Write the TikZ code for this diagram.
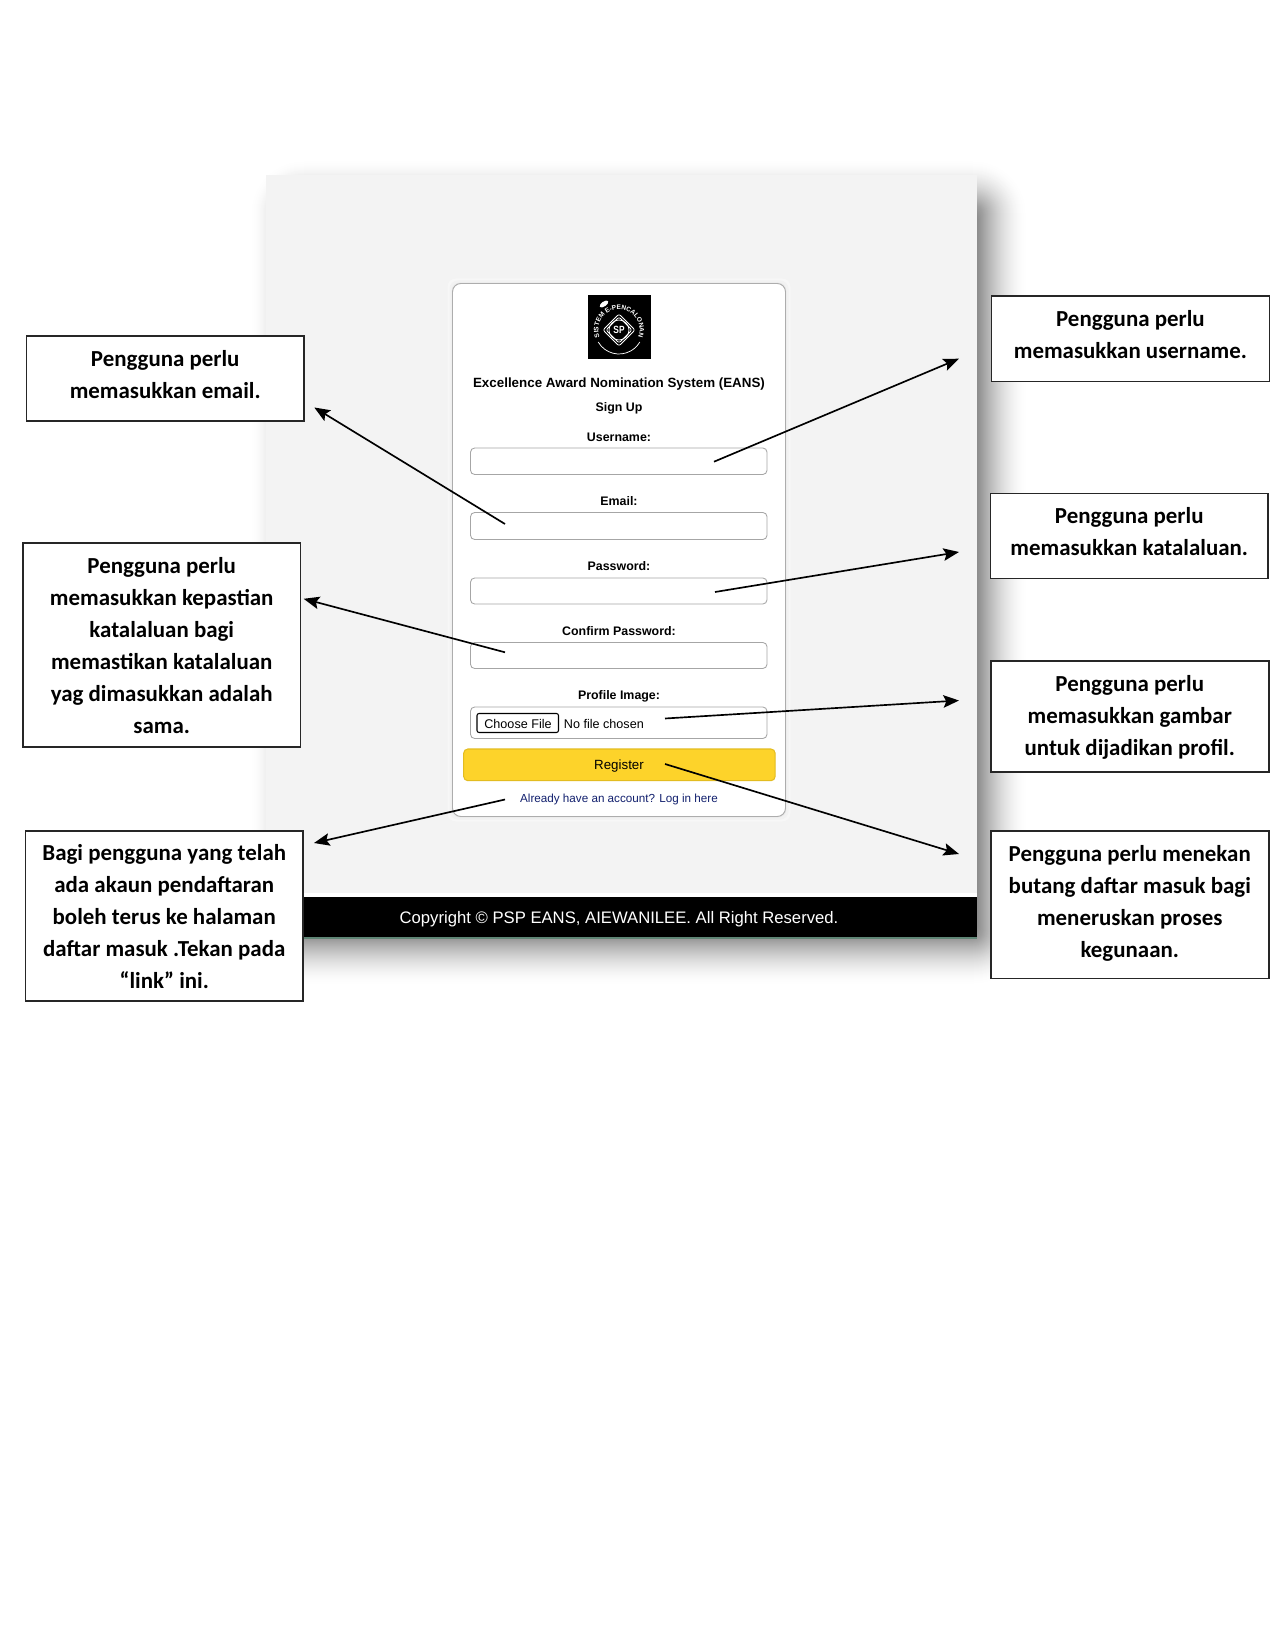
\documentclass[tikz,border=0pt]{standalone}
\usepackage{fontspec}
\setmainfont{Liberation Sans}
\newfontfamily\callfont{Carlito}
\usetikzlibrary{arrows.meta,decorations.text}
\definecolor{pagegrey}{HTML}{F3F3F3}
\definecolor{fieldline}{HTML}{A6A6A6}
\definecolor{btnyellow}{HTML}{FDD32A}
\definecolor{btnedge}{HTML}{E3BC20}
\definecolor{linknavy}{HTML}{12206E}
\definecolor{barline}{HTML}{5F8575}
\newcommand{\calltext}[2]{\raisebox{#1}[\height][\depth]{\begin{tabular}{@{}c@{}}#2\end{tabular}}}
\tikzset{
  callout/.style={draw=black!85,line width=0.75pt,fill=white,inner sep=0pt,
    font=\callfont\bfseries\fontsize{11}{15.4}\selectfont,anchor=north west},
  fieldbox/.style={draw=fieldline,line width=0.42pt,fill=white,rounded corners=2pt},
  uilabel/.style={font=\bfseries\fontsize{5.95}{7}\selectfont,inner sep=0pt},
  uitext/.style={font=\fontsize{6.05}{7}\selectfont,inner sep=0pt},
  pointer/.style={draw=black,line width=0.8pt,-{Stealth[length=7.5pt,width=6pt,inset=1.4pt]}},
  logoline/.style={draw=white,line width=0.35pt},
}
\begin{document}
\begin{tikzpicture}[x=0.48pt,y=-0.48pt]
\useasboundingbox (0,0) rectangle (1275,1650);
\fill[white] (0,0) rectangle (1275,1650);
% soft shadow of the screenshot
\foreach \i in {0,...,49}{
  \pgfmathsetmacro{\p}{45*pow(\i/49,1.7)}
  \pgfmathsetmacro{\r}{max(26-0.48*\i,5)}
  \fill[black!\p,rounded corners=\r pt] (250+\i,160+\i) rectangle (1027-\i,985-\i);
}
% screenshot
\fill[pagegrey] (265.5,175) rectangle (976.5,893);
\fill[white] (265.5,893) rectangle (976.5,897);
\fill[black] (265.5,897) rectangle (976.5,937);
\fill[barline] (265.5,937) rectangle (976.5,939);
\node[font=\fontsize{8.0}{10}\selectfont,text=white,inner sep=0pt] (copy) at (619,919) {Copyright © PSP EANS, AIEWANILEE. All Right Reserved.};
% card
\foreach \i/\p in {5/3,3/5,1/8}{
  \fill[black!\p,rounded corners=4pt] (452.5-\i,283.5-\i) rectangle (785.5+\i,816.5+\i);
}
\draw[draw=black!32,line width=0.45pt,fill=white,rounded corners=4pt] (452.5,283.5) rectangle (785.5,816.5);
% logo
\fill[black] (587.5,295) rectangle (650.5,359);
\begin{scope}[shift={(619,330)},x=0.48pt,y=0.48pt]
  \draw[logoline] (210:24) arc[start angle=210,end angle=330,radius=24];
  \draw[logoline,rounded corners=1pt] (16,0) -- (0,16) -- (-16,0) -- (0,-16) -- cycle;
  \draw[logoline,rounded corners=1pt] (13,0) -- (0,13) -- (-13,0) -- (0,-13) -- cycle;
  \draw[logoline] (0,0) circle[radius=10];
  \node[text=white,font=\bfseries\fontsize{5}{5}\selectfont,inner sep=0pt,xscale=0.8] (logosp) at (0,0) {SP};
  \fill[white,rotate around={35:(-15,26)}] (-15,26) ellipse[x radius=5,y radius=2.4];
  \path[decorate,decoration={text along path,text align=center,
     text={|\fontsize{3.15}{4}\selectfont\bfseries\color{white}|SISTEM E-PENCALONAN}}]
     (208:20.5) arc[start angle=208,end angle=-28,radius=20.5];
\end{scope}
% form
\node[uilabel,font=\bfseries\fontsize{6.42}{7}\selectfont] (title) at (619,384.5) {Excellence Award Nomination System (EANS)};
\node[uilabel] (signup) at (619,408) {Sign Up};
\node[uilabel] (luser) at (619,437) {Username:};
\draw[fieldbox] (470.5,448) rectangle (767,474.5);
\node[uilabel] (lmail) at (619,501) {Email:};
\draw[fieldbox] (470.5,512.5) rectangle (767,539.5);
\node[uilabel] (lpass) at (619,566) {Password:};
\draw[fieldbox] (470.5,578) rectangle (767,604);
\node[uilabel] (lconf) at (619,631.5) {Confirm Password:};
\draw[fieldbox] (470.5,642.5) rectangle (767,668.5);
\node[uilabel] (lprof) at (619,696) {Profile Image:};
\draw[fieldbox] (470.5,707) rectangle (767,738.5);
\draw[draw=black,line width=0.5pt,fill=white,rounded corners=1pt] (477,713.5) rectangle (558.5,732.5);
\node[uitext] (choose) at (518,723.5) {Choose File};
\node[uitext,anchor=west] (nofile) at (563.5,723.5) {No file chosen};
\draw[draw=btnedge,line width=0.5pt,fill=btnyellow,rounded corners=2pt] (463.7,749) rectangle (775.1,780.7);
\node[uitext,font=\fontsize{6.4}{7}\selectfont] (regis) at (619,766.5) {Register};
\node[uitext,font=\fontsize{5.6}{7}\selectfont,text=linknavy] (login) at (619,799.5) {Already have an account? Log in here};
% callouts
\node[callout,minimum width=133.4pt,minimum height=41pt] (bmail) at (25.5,335) {\calltext{1pt}{Pengguna perlu\\memasukkan email.}};
\node[callout,minimum width=133.4pt,minimum height=98pt] (bconf) at (22,542) {\calltext{-1pt}{Pengguna perlu\\memasukkan kepastian\\katalaluan bagi\\memastikan katalaluan\\yag dimasukkan adalah\\sama.}};
\node[callout,minimum width=133.4pt,minimum height=81.7pt] (blink) at (24.5,830) {\calltext{-1.1pt}{Bagi pengguna yang telah\\ada akaun pendaftaran\\boleh terus ke halaman\\daftar masuk .Tekan pada\\“link” ini.}};
\node[callout,minimum width=133.4pt,minimum height=41pt] (buser) at (990.7,295.5) {\calltext{1.5pt}{Pengguna perlu\\memasukkan username.}};
\node[callout,minimum width=133.4pt,minimum height=41pt] (bkata) at (989.5,492.5) {\calltext{1.5pt}{Pengguna perlu\\memasukkan katalaluan.}};
\node[callout,minimum width=133.4pt,minimum height=53.3pt] (bgamb) at (990,660) {\calltext{-0.5pt}{Pengguna perlu\\memasukkan gambar\\untuk dijadikan profil.}};
\node[callout,minimum width=133.4pt,minimum height=71pt] (bmene) at (990,830) {\calltext{0.7pt}{Pengguna perlu menekan\\butang daftar masuk bagi\\meneruskan proses\\kegunaan.}};
% arrows
\coordinate (suser) at (714,461.7); \coordinate (tuser) at (959,358.7);
\coordinate (smail) at (505,524);     \coordinate (tmail) at (314.3,407.5);
\coordinate (skata) at (715,592);     \coordinate (tkata) at (959,552);
\coordinate (sconf) at (505,652.3);   \coordinate (tconf) at (303.7,598.8);
\coordinate (sgamb) at (665,718.5);   \coordinate (tgamb) at (959,700.5);
\coordinate (smene) at (665,764);     \coordinate (tmene) at (959,854);
\coordinate (slink) at (505,799.5);   \coordinate (tlink) at (314,843);
\foreach \a/\b in {suser/tuser,smail/tmail,skata/tkata,sconf/tconf,sgamb/tgamb,smene/tmene,slink/tlink}{
  \draw[pointer] (\a) -- (\b);
}
\end{tikzpicture}
\end{document}
